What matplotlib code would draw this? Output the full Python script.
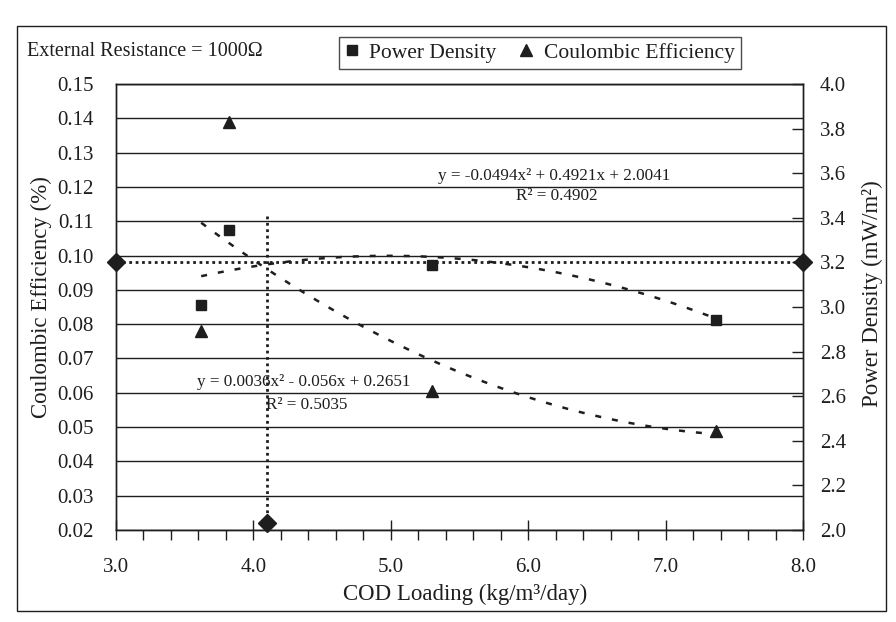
import numpy as np
import matplotlib
matplotlib.use("Agg")
import matplotlib.pyplot as plt
from matplotlib.patches import Rectangle
from matplotlib.ticker import MultipleLocator, FormatStrFormatter

# ---------------- data ----------------
cod_loading = [3.62, 3.82, 5.30, 7.37]                 # kg/m3/day
power_density = [3.01, 3.345, 3.187, 2.94]             # mW/m2 (right axis)
coulombic_eff = [0.078, 0.139, 0.0605, 0.049]          # % (left axis)

pd_fit_coef = [-0.0494, 0.4921, 2.0041]                # shown equation
ce_fit_coef = [0.0036, -0.056, 0.2651]                 # shown equation
fit_range = [3.62, 7.37]

opt_pd_line_x = [3.0, 8.0]       # horizontal reference line (power density)
opt_pd_line_y = [3.2, 3.2]
opt_cod_line_x = [4.1, 4.1]      # vertical reference line (left axis)
opt_cod_line_y = [0.1115, 0.022]

pd_eq = "y = -0.0494x\u00b2 + 0.4921x + 2.0041"
pd_r2 = "R\u00b2 = 0.4902"
ce_eq = "y = 0.0036x\u00b2 - 0.056x + 0.2651"
ce_r2 = "R\u00b2 = 0.5035"

xticks = [3.0, 4.0, 5.0, 6.0, 7.0, 8.0]
left_ticks = np.round(np.arange(0.02, 0.1501, 0.01), 2)
right_ticks = np.round(np.arange(2.0, 4.001, 0.2), 1)

# ---------------- style ----------------
plt.rcParams['font.family'] = ['Liberation Serif', 'DejaVu Serif']
INK = '#1e1e1e'

W, H = 896, 622
fig = plt.figure(figsize=(W / 100, H / 100), dpi=100)
fig.patch.set_facecolor('white')

L, R, T, B = 116, 803, 84, 530
ax = fig.add_axes([L / W, 1 - B / H, (R - L) / W, (B - T) / H])
ax2 = ax.twinx()

# outer chart frame
fig.patches.append(Rectangle((17 / W, 1 - 611 / H), (886 - 17) / W, (611 - 26) / H,
                             transform=fig.transFigure, fill=False,
                             edgecolor=INK, lw=1.0, zorder=0))

ax.set_xlim(3.0, 8.0)
ax.set_ylim(0.02, 0.15)
ax2.set_ylim(2.0, 4.0)

# left axis
ax.set_yticks(left_ticks)
ax.yaxis.set_major_formatter(FormatStrFormatter('%.2f'))
ax.yaxis.grid(True, color=INK, lw=1.0)
ax.set_axisbelow(True)
ax.tick_params(axis='y', length=0, pad=16, labelsize=15, colors=INK)

# x axis
ax.set_xticks(xticks)
ax.xaxis.set_major_formatter(FormatStrFormatter('%.1f'))
ax.xaxis.set_minor_locator(MultipleLocator(0.2))
ax.tick_params(axis='x', which='major', direction='inout', length=14, width=1.0,
               pad=13.5, labelsize=15, colors=INK)
ax.tick_params(axis='x', which='minor', direction='out', length=7, width=1.0, colors=INK)

# right axis
ax2.set_yticks(right_ticks)
ax2.yaxis.set_major_formatter(FormatStrFormatter('%.1f'))
ax2.tick_params(axis='y', direction='in', length=8, width=1.0, pad=12,
                labelsize=15, colors=INK)

for a in (ax, ax2):
    for s in a.spines.values():
        s.set_color(INK)
        s.set_linewidth(1.0)

ax.set_xlabel("COD Loading (kg/m\u00b3/day)", fontsize=16.5, color=INK)
ax.xaxis.set_label_coords(0.508, -0.121)
ax.set_ylabel("Coulombic Efficiency (%)", fontsize=16.5, color=INK)
ax.yaxis.set_label_coords(-0.093, 0.522)
ax2.set_ylabel("Power Density (mW/m\u00b2)", fontsize=16.5, color=INK, rotation=90)
ax2.yaxis.set_label_coords(1.086, 0.529)

# ---------------- marks ----------------
dash = (0, (2.4, 4.4))
xs = np.linspace(fit_range[0], fit_range[1], 200)
ax2.plot(xs, np.polyval(pd_fit_coef, xs), color=INK, lw=1.8, linestyle=dash, zorder=3)
ax.plot(xs, np.polyval(ce_fit_coef, xs), color=INK, lw=1.8, linestyle=dash, zorder=3)

# reference lines
dot = (0, (1, 1.3))
ax2.plot(opt_pd_line_x, opt_pd_line_y, color=INK, lw=2.0, linestyle=dot,
         marker='D', markersize=9, markevery=[0, 1], clip_on=False, zorder=4)
ax.plot(opt_cod_line_x, opt_cod_line_y, color=INK, lw=2.0, linestyle=dot,
        marker='D', markersize=9, markevery=[1], clip_on=False, zorder=4)

h1, = ax2.plot(cod_loading, power_density, linestyle='none', marker='s',
               markersize=7, color=INK, zorder=5, label='Power Density')
h2, = ax.plot(cod_loading, coulombic_eff, linestyle='none', marker='^',
              markersize=9, color=INK, zorder=5, label='Coulombic Efficiency')

# annotations
for txt, cx, cy in [(pd_eq, 554, 175.5), (pd_r2, 557, 196),
                    (ce_eq, 304, 382), (ce_r2, 307, 405)]:
    fig.text(cx / W, 1 - cy / H, txt, fontsize=12.3, color=INK,
             ha='center', va='center', zorder=6)

fig.text(145 / W, 1 - 52 / H, "External Resistance = 1000\u03a9", fontsize=14.5,
         color=INK, ha='center', va='center')

leg = fig.legend(handles=[h1, h2], loc='center', bbox_to_anchor=(540 / W, 1 - 53 / H),
                 ncol=2, fontsize=15.5, frameon=True, fancybox=False, shadow=False,
                 handlelength=0.6, handletextpad=0.5, columnspacing=1.1,
                 borderpad=0.3, markerscale=1.0)
leg.get_frame().set_edgecolor(INK)
leg.get_frame().set_linewidth(1.0)
for t in leg.get_texts():
    t.set_color(INK)

fig.savefig("out.png", dpi=100, facecolor='white')
